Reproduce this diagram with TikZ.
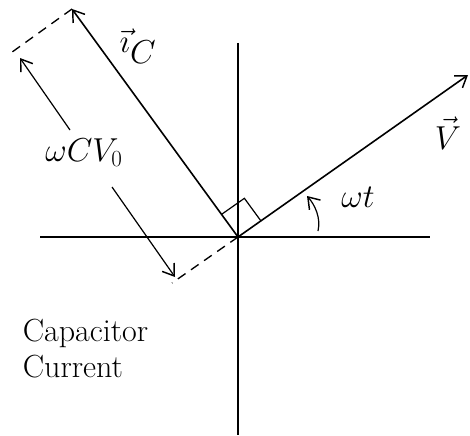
\documentclass[tikz,border=0pt]{standalone}
\usetikzlibrary{arrows.meta}
\begin{document}
\begin{tikzpicture}[x=0.75pt,y=-0.75pt,line width=1.2pt,
  tipline/.style={-{Straight Barb[length=8pt,width=11pt,line width=1.1pt]}},
  thinline/.style={line width=0.9pt},
  dimline/.style={line width=1pt,dash pattern=on 7pt off 5pt},
  lbl/.style={font=\fontsize{24}{27}\selectfont}]
\useasboundingbox (0,0) rectangle (470,435);
% key points
\coordinate (O) at (238,237);
\coordinate (xl) at (40,237);
\coordinate (xr) at (430,237);
\coordinate (yt) at (238,43);
\coordinate (yb) at (238,435);
\coordinate (V) at (468,75);
\coordinate (I) at (72,9);
\coordinate (Ip) at (8,55);
\coordinate (Op) at (172,283);
\coordinate (a1s) at (70,130);
\coordinate (a1) at (20,58);
\coordinate (a2s) at (112,187);
\coordinate (a2) at (175,277);
\coordinate (r1) at (221.5,214.4);
\coordinate (rc) at (244.4,198.3);
\coordinate (r2) at (260.9,220.9);
\coordinate (w1) at (318,231);
\coordinate (w2) at (307,196);
% axes
\draw (xl) -- (xr);
\draw (yt) -- (yb);
% phasors
\draw[tipline] (O) -- (V);
\draw[tipline] (O) -- (I);
% right angle mark
\draw[thinline] (r1) -- (rc) -- (r2);
% dimension lines
\draw[dimline] (I) -- (Ip);
\draw[dimline] (O) -- (Op);
\draw[tipline,thinline] (a1s) -- (a1);
\draw[tipline,thinline] (a2s) -- (a2);
% angle arrow
\draw[tipline,thinline] (w1) .. controls (321,218) and (315,205) .. (w2);
% labels
\node[lbl] (iC) at (138,46) {$\vec{\imath}_{\textstyle C}$};
\node[lbl] (Vl) at (448,133) {$\vec{V}$};
\node[lbl] (wt) at (358,197) {$\omega t$};
\node[lbl] (w) at (84,153) {$\omega C V_{0}$};
\node[lbl,align=left,anchor=north west,inner sep=0pt] (cap) at (22,318) {Capacitor\\Current};
\end{tikzpicture}
\end{document}
